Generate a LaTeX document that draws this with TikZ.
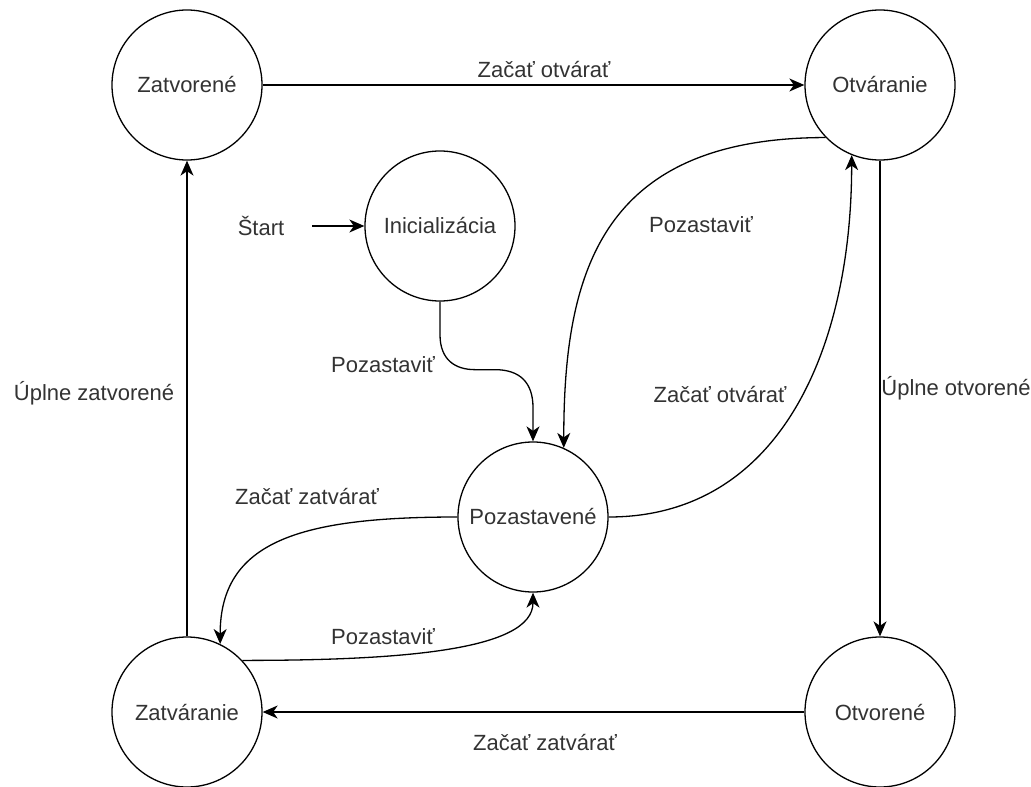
\documentclass[tikz,border=0pt]{standalone}
\usepackage{fontspec}
\setmainfont{Liberation Sans}
\usetikzlibrary{arrows.meta}
\begin{document}
\begin{tikzpicture}[x=1pt,y=-1pt,
  state/.style={circle,draw,line width=1.3pt,minimum size=150pt,inner sep=0pt,
    font=\fontsize{22}{26}\selectfont,text=black!80},
  lbl/.style={font=\fontsize{22}{26}\selectfont,text=black!80,inner sep=0pt},
  arr/.style={line width=1.3pt,-{Stealth[length=15pt,width=13pt,inset=4.5pt]}}]
\useasboundingbox[fill=white] (0,0) rectangle (1031,787);

% states
\node[state] (zatv)   at (187,85)  {Zatvorené};
\node[state] (otvar)  at (880,85)  {Otváranie};
\node[state] (ini)    at (440,226) {Inicializácia};
\node[state] (poz)    at (533,517) {Pozastavené};
\node[state] (zatvar) at (187,712) {Zatváranie};
\node[state] (otvor)  at (880,712) {Otvorené};
\node[lbl] (start) at (261,226) {Štart};

% entry arrow
\draw[arr] ([xshift=28pt]start.east) -- (ini.west);

% outer cycle
\draw[arr] (zatv.east) -- (otvar.west);
\draw[arr] (otvar.south) -- (otvor.north);
\draw[arr] (otvor.west) -- (zatvar.east);
\draw[arr] (zatvar.north) -- (zatv.south);

% transitions through the paused state
\draw[arr] (ini.south) -- ++(0,33) .. controls +(0,25) and +(-20,0) .. ++(35,35)
  -- ++(20,0) .. controls +(25,0) and +(0,-25) .. ++(38,38) -- (poz.north);
\draw[arr] (otvar.224) .. controls +(-225,0) and +(0,-175) .. (poz.66);
\draw[arr] (poz.east) .. controls +(172,0) and +(0,192) .. (otvar.248);
\draw[arr] (poz.west) .. controls +(-157,0) and +(0,-103) .. (zatvar.64);
\draw[arr] (zatvar.43) .. controls +(158,0) and +(0,58) .. (poz.south);

% transition labels
\node[lbl] at (544,70)  {Začať otvárať};
\node[lbl] at (956,388) {Úplne otvorené};
\node[lbl] at (545,742) {Začať zatvárať};
\node[lbl] at (94,393)  {Úplne zatvorené};
\node[lbl] at (383,365) {Pozastaviť};
\node[lbl] at (701,225) {Pozastaviť};
\node[lbl] at (720,395) {Začať otvárať};
\node[lbl] at (307,497) {Začať zatvárať};
\node[lbl] at (383,637) {Pozastaviť};
\end{tikzpicture}
\end{document}
